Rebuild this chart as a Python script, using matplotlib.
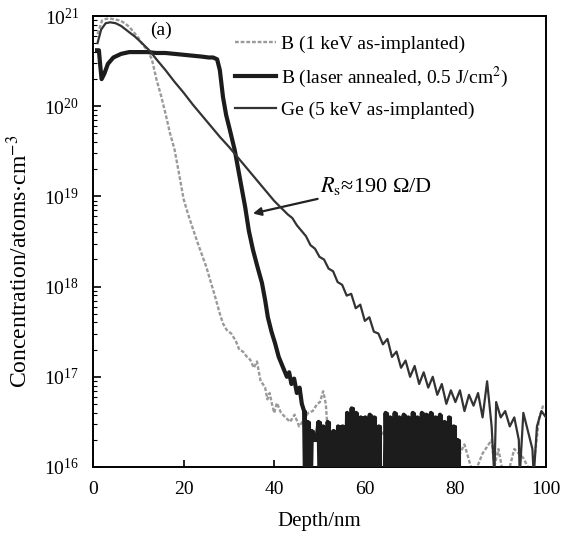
import numpy as np
import matplotlib.pyplot as plt

plt.rcParams['font.family'] = ['Liberation Serif', 'DejaVu Serif']
plt.rcParams['mathtext.fontset'] = 'stix'

# --- B, 1 keV as-implanted (log10 of concentration) ---
b_impl_depth = [1.0, 2.0, 3.0, 4.0, 5.0, 6.0, 7.0, 8.0, 9.0, 10.0, 11.0, 12.0, 13.0,
                14.0, 15.0, 16.0, 17.0, 18.0, 19.0, 20.0, 21.0, 22.0, 23.0, 24.0, 25.0,
                26.0, 27.0, 28.0, 28.7, 29.5, 30.5, 31.5, 32.3, 33.1, 34.0, 34.7, 35.5,
                36.2, 37.0, 37.5, 38.0, 38.5, 39.0, 39.5, 40.0, 40.6, 41.5, 42.5, 43.5,
                44.5, 45.5, 46.5, 47.5, 48.5, 49.5, 50.1, 50.8, 51.4, 51.9, 52.4, 53.5,
                55.0, 57.0, 59.0, 61.0, 63.0, 65.0, 67.0, 69.0, 71.0, 73.0, 75.0, 77.0,
                79.0, 80.5, 82.0, 84.0, 86.0, 88.0, 88.6, 89.5, 91.0, 93.0, 95.0, 97.0,
                98.5, 99.5]
b_impl_log = [20.80, 20.95, 20.97, 20.97, 20.96, 20.95, 20.92, 20.88, 20.82, 20.76, 20.68,
              20.62, 20.52, 20.30, 20.12, 19.92, 19.70, 19.52, 19.25, 18.97, 18.80, 18.65,
              18.50, 18.36, 18.22, 18.05, 17.88, 17.70, 17.59, 17.52, 17.48, 17.40, 17.30,
              17.28, 17.22, 17.19, 17.10, 17.17, 16.95, 16.92, 16.88, 16.75, 16.82, 16.70,
              16.60, 16.71, 16.60, 16.55, 16.50, 16.58, 16.45, 16.52, 16.60, 16.62, 16.70,
              16.72, 16.84, 16.70, 16.32, 15.80, 16.35, 16.30, 16.45, 16.25, 16.40, 16.30,
              16.45, 16.35, 16.30, 16.42, 16.28, 16.40, 16.35, 16.30, 16.10, 16.25, 15.90,
              16.15, 16.30, 16.00, 16.20, 15.80, 16.20, 16.10, 15.90, 16.55, 16.70]

# --- B, laser annealed 0.5 J/cm2 ---
b_laser_depth = [0.9, 1.3, 1.6, 1.9, 2.5, 3.3, 4.5, 6.2, 8.0, 10.0, 12.0, 14.0, 16.0, 18.0,
                 20.0, 22.0, 24.0, 25.5, 26.5, 27.4, 28.0, 28.7, 29.4, 30.2, 31.3, 32.5,
                 33.6, 34.4, 35.3, 36.3, 37.3, 38.0, 38.6, 39.4, 40.2, 41.0, 41.9, 42.8,
                 43.3, 43.8, 44.4, 45.0, 45.6, 46.1, 46.6,
                 47.0, 47.4, 47.8, 48.3, 48.8, 49.3, 49.8, 50.3, 50.8, 51.3, 51.8, 52.3,
                 52.6, 53.1, 53.6, 54.1, 54.6, 55.1, 55.6, 56.1, 56.6, 57.1, 57.6, 58.1,
                 58.6, 59.1, 59.6, 60.1, 60.6, 61.1, 61.6, 62.1, 62.6, 63.1, 63.6, 64.2,
                 64.6, 65.1, 65.6, 66.1, 66.6, 67.1, 67.6, 68.1, 68.6, 69.1, 69.6, 70.1,
                 70.6, 71.1, 71.6, 72.1, 72.6, 73.1, 73.6, 74.1, 74.6, 75.1, 75.6, 76.1,
                 76.6, 77.1, 77.6, 78.1, 78.6, 79.1, 79.6, 80.1, 80.5, 80.9]
b_laser_log = [20.62, 20.62, 20.45, 20.30, 20.36, 20.47, 20.54, 20.58, 20.60, 20.60, 20.60,
               20.59, 20.59, 20.58, 20.57, 20.56, 20.55, 20.54, 20.54, 20.52, 20.40, 20.10,
               19.90, 19.74, 19.51, 19.18, 18.88, 18.62, 18.41, 18.22, 18.04, 17.85, 17.66,
               17.50, 17.37, 17.22, 17.11, 17.00, 17.05, 16.92, 16.98, 16.82, 16.88, 16.70,
               16.62,
               15.00, 16.50, 15.00, 16.40, 16.30, 16.30, 16.50, 15.00, 16.45, 15.00, 16.50,
               16.20, 15.00, 16.40, 15.00, 16.45, 15.00, 16.45, 15.00, 16.60, 15.00, 16.65,
               15.00, 16.60, 15.00, 16.55, 15.00, 16.55, 15.00, 16.58, 15.00, 16.55, 15.00,
               16.45, 15.00, 15.00, 16.60, 15.00, 16.55, 15.00, 16.60, 15.00, 16.55, 15.00,
               16.58, 15.00, 16.55, 15.00, 16.60, 15.00, 16.55, 15.00, 16.60, 15.00, 16.58,
               15.00, 16.60, 15.00, 16.55, 15.00, 16.58, 15.00, 16.50, 15.00, 16.55, 15.00,
               16.45, 15.00, 16.30, 15.00]

# --- Ge, 5 keV as-implanted ---
ge_depth = [1.0, 1.8, 2.8, 3.8, 5.0, 6.2, 8.0, 9.3, 11.0, 12.6, 14.0, 16.0, 18.0, 20.0,
            22.0, 24.0, 26.0, 28.0, 30.0, 32.0, 34.0, 36.0, 38.0, 40.0, 42.0, 43.0,
            44, 45, 46, 47, 48, 49, 50, 51, 52, 53, 54, 55, 56, 57, 58, 59, 60, 61, 62,
            63, 64, 65, 66, 67, 68, 69, 70, 71, 72, 73, 74, 75, 76, 77, 78, 79, 80, 81,
            82, 83, 84, 85, 86, 87, 88, 88.6, 89, 90, 91, 92, 93, 94, 94.2, 95, 96, 97,
            97.3, 98, 99, 100]
ge_log = [20.70, 20.85, 20.92, 20.93, 20.92, 20.89, 20.82, 20.77, 20.69, 20.61, 20.52,
          20.40, 20.27, 20.15, 20.02, 19.90, 19.78, 19.66, 19.55, 19.43, 19.31, 19.19,
          19.07, 18.95, 18.85, 18.80,
          18.76, 18.68, 18.62, 18.56, 18.46, 18.42, 18.33, 18.30, 18.20, 18.17, 18.05,
          18.02, 17.90, 17.92, 17.76, 17.80, 17.62, 17.66, 17.50, 17.48, 17.36, 17.42,
          17.22, 17.28, 17.10, 17.18, 17.00, 17.12, 16.92, 17.05, 16.88, 17.00, 16.80,
          16.92, 16.70, 16.85, 16.72, 16.85, 16.62, 16.80, 16.68, 16.82, 16.55, 16.95,
          16.45, 15.90, 16.72, 16.55, 16.62, 16.45, 16.55, 16.30, 15.90, 16.60, 16.40,
          16.20, 15.90, 16.45, 16.62, 16.55]

fig = plt.figure(figsize=(5.65, 5.36), dpi=100)
ax = fig.add_axes([93/565, 1 - 467/536, 453/565, 451/536])

laser_x = np.array(b_laser_depth)
laser_y = 10**np.array(b_laser_log)

ax.plot(b_impl_depth, 10**np.array(b_impl_log), color='#9a9a9a', lw=1.7,
        ls=(0, (1.6, 0.8)), label='B (1 keV as-implanted)', zorder=2)
ax.plot(laser_x, laser_y, color='#1c1c1c', lw=3.0,
        label=r'B (laser annealed, 0.5 J/cm$^{2}$)', zorder=3)
# noisy tail near the detection limit drawn as blocky bars
tail = laser_x >= 46.6
ax.plot(laser_x[tail], laser_y[tail], color='#1c1c1c', lw=2.2,
        drawstyle='steps-mid', zorder=3)
ax.plot(ge_depth, 10**np.array(ge_log), color='#333333', lw=1.6,
        label='Ge (5 keV as-implanted)', zorder=4)

ax.set_yscale('log')
ax.set_xlim(0, 100)
ax.set_ylim(1e16, 1e21)
ax.set_xticks([0, 20, 40, 60, 80, 100])
ax.tick_params(which='both', direction='in', labelsize=14)
ax.tick_params(axis='x', length=5, width=1.2, pad=10)
ax.tick_params(axis='y', which='major', length=6, width=1.2, pad=10)
ax.tick_params(axis='y', which='minor', length=3, width=0.8)
for s in ax.spines.values():
    s.set_linewidth(1.4)

ax.set_xlabel('Depth/nm', fontsize=15, labelpad=10)
ax.set_ylabel(r'Concentration/atoms$\cdot$cm$^{-3}$', fontsize=17, va='center')
ax.yaxis.set_label_coords(-0.163, 0.455)

ax.text(15, 10**20.845, '(a)', fontsize=14, ha='center', va='center')

ax.annotate(r'$R_{\rm s}$≈190 Ω/D', xy=(35.3, 10**18.81), xytext=(50.2, 10**19.12),
            fontsize=16, va='center', ha='left',
            arrowprops=dict(arrowstyle='-|>', color='#222222', lw=1.6,
                            mutation_scale=12, shrinkA=0, shrinkB=0))

ax.legend(loc='upper left', bbox_to_anchor=(235/565, 1 - 35/536),
          bbox_transform=fig.transFigure, frameon=False, fontsize=14,
          handlelength=2.1, handletextpad=0.25, labelspacing=0.6,
          borderpad=0, borderaxespad=0)

fig.savefig('out.png', dpi=100)
